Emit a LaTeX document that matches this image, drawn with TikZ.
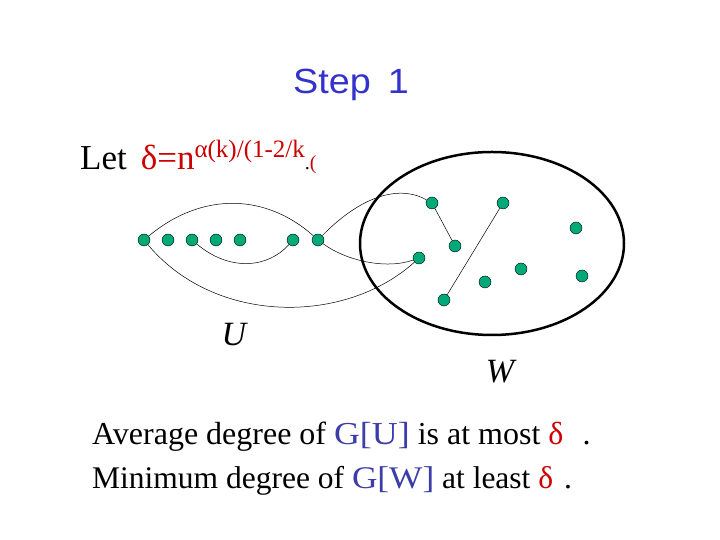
\documentclass[tikz,border=0pt]{standalone}
\usepackage{fontspec}
\setmainfont{Liberation Serif}
\newfontfamily\titlefont{Liberation Sans}
\usetikzlibrary{shapes.geometric}
\definecolor{titleblue}{RGB}{51,51,204}
\definecolor{setblue}{RGB}{60,60,170}
\definecolor{deltared}{RGB}{204,0,0}
\definecolor{vertgreen}{RGB}{0,170,120}

\begin{document}
\begin{tikzpicture}[
    x=1pt, y=1pt,
    vert/.style={draw=black, thin, circle, fill=vertgreen, minimum size=12pt, inner sep=0pt},
    edge/.style={black, line width=0.5pt},
    setline/.style={draw=black, line width=2.5pt, ellipse, inner sep=0pt},
    stmt/.style={anchor=base west, inner sep=0pt, font=\fontsize{32}{38}\selectfont}
]
\useasboundingbox (0,0) rectangle (720,540);

% Title
\node[font=\titlefont\fontsize{35}{42}\selectfont, titleblue, anchor=base] (title) at (351,446)
    {\scalebox{1.08}[1]{Step\hspace{0.45em}1}};

% Definition of delta
\node[anchor=base west, inner sep=0pt, font=\fontsize{35}{42}\selectfont] (let) at (80,370)
    {Let\hspace{0.4em}{\color{deltared}δ=n\raisebox{12pt}{\fontsize{25}{30}\selectfont α(k)/(1-2/k}}{\fontsize{20}{24}\selectfont .\color{deltared}(}};

% The set W
\node[setline, minimum width=264pt, minimum height=183pt] (wset) at (492,296.5) {};

% Vertices of U
\foreach \name/\x in {a1/144, a2/168, a3/192, a4/216, a5/240, a6/293, a7/318}
    \node[vert] (\name) at (\x,300) {};

% Vertices of W
\foreach \name/\x/\y in {w1/432/337, w2/503/337, w3/576/312, w4/455/294, w5/419/282,
                         w6/521/271, w7/582/264, w8/485/258, w9/444/240}
    \node[vert] (\name) at (\x,\y) {};

% Edges
\draw[edge] (a1) .. controls +(60,50) and +(-50,45) .. (a7);
\draw[edge] (a1) .. controls (215,215) and (345,215) .. (w5);
\draw[edge] (a3) .. controls (230,268) and (268,272) .. (a6);
\draw[edge] (a7) .. controls (355,338) and (395,358) .. (w1);
\draw[edge] (a7) .. controls (345,280) and (385,270) .. (w5);
\draw[edge] (w1) -- (w4);
\draw[edge] (w2) -- (w9);

% Labels
\node[font=\fontsize{34}{40}\selectfont\itshape] (ulabel) at (234,205) {U};
\node[font=\fontsize{34}{40}\selectfont\itshape] (wlabel) at (500,168) {W};

% Statements
\node[stmt] (avg) at (92,95)
    {Average degree of {\color{setblue}\scalebox{1.12}[1]{G[U]}} is at most {\color{deltared}δ}\hspace{0.6em}.};
\node[stmt, font=\fontsize{31.5}{38}\selectfont] (mindeg) at (92,51)
    {Minimum degree of {\color{setblue}\scalebox{1.12}[1]{G[W]}} at least {\color{deltared}δ}\hspace{0.35em}.};

\end{tikzpicture}
\end{document}
